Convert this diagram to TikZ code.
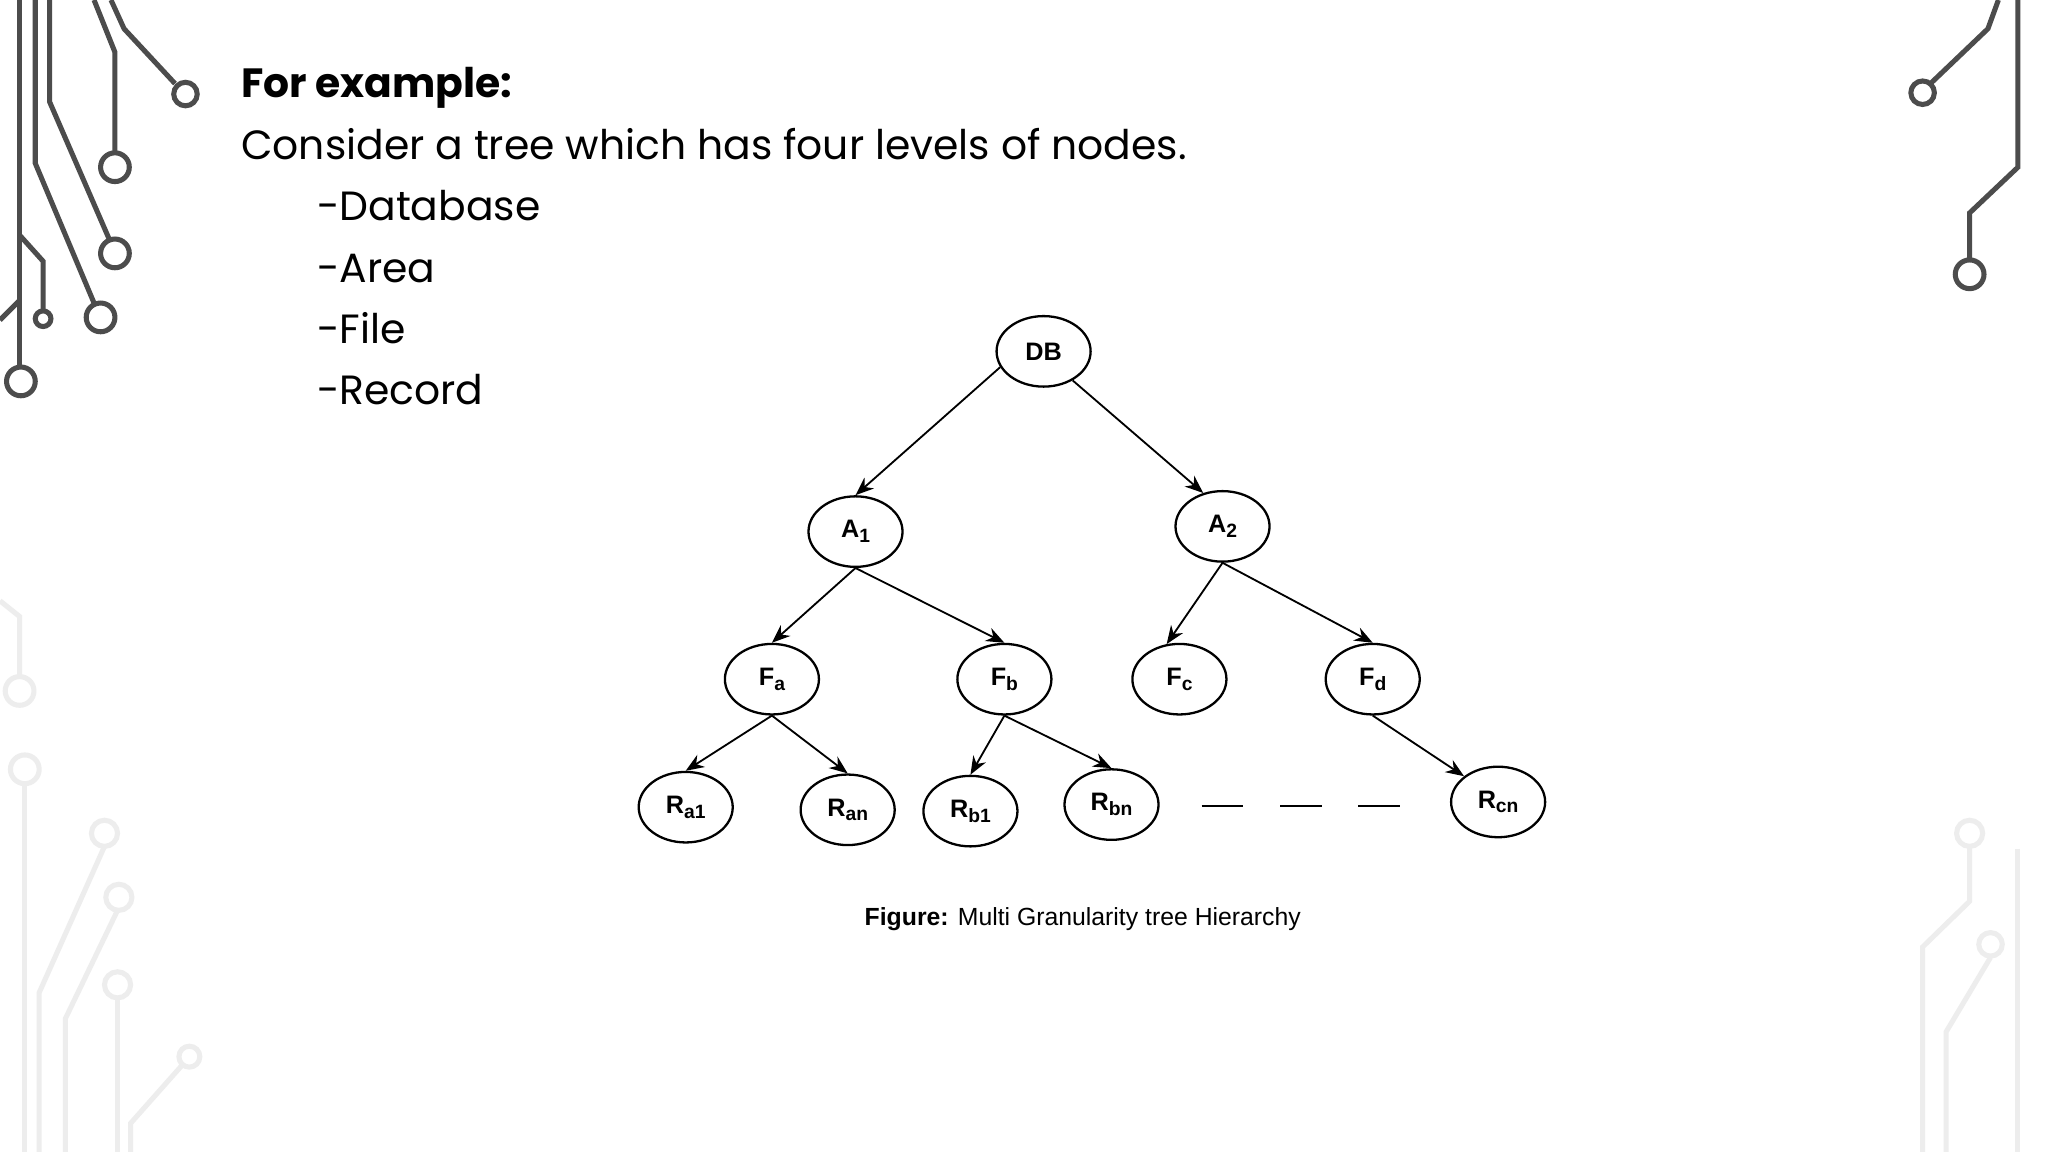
\documentclass[tikz,border=0pt]{standalone}
\usepackage{fontspec}
\setmainfont{Poppins}
\newfontfamily\arialf{Liberation Sans}
\usetikzlibrary{shapes.geometric,arrows.meta}
\newcommand{\sbx}[1]{\raisebox{-0.35ex}{\fontsize{4.2}{5}\selectfont #1}}
\begin{document}
\begin{tikzpicture}[x=0.1mm,y=-0.1mm,
  circ/.style={draw=black!70,line width=1.1pt},
  faint/.style={draw=black!7,line width=1.1pt},
  tnode/.style={ellipse,draw,line width=0.5pt,minimum width=7.2mm,minimum height=5.4mm,inner sep=0pt,font=\arialf\bfseries\fontsize{5.5}{6}\selectfont},
  arr/.style={-{Stealth[length=1.4mm,width=1.1mm]},line width=0.4pt},
  body/.style={anchor=base west,inner sep=0pt,font=\fontsize{8.9}{11}\selectfont}]
\useasboundingbox (0,0) rectangle (1568,882);
\fill[white] (0,0) rectangle (1568,882);
% decorations
\draw[circ] (15,0) -- (15,281); \draw[circ] (16,292) circle (11);
\draw[circ] (27,0) -- (27,125) -- (72,232); \draw[circ] (77,243) circle (11);
\draw[circ] (38,0) -- (38,78) -- (84,184); \draw[circ] (88,194) circle (11);
\draw[circ] (72,0) -- (88,40) -- (88,117); \draw[circ] (88,128) circle (11);
\draw[circ] (85,0) -- (95,22) -- (134,64); \draw[circ] (142,72) circle (9);
\draw[circ] (15,180) -- (33,200) -- (33,238); \draw[circ] (33,244) circle (6);
\draw[circ] (0,245) -- (15,230);
\draw[circ] (1530,0) -- (1522,22) -- (1478,64); \draw[circ] (1472,71) circle (9);
\draw[circ] (1545,0) -- (1545,128) -- (1508,163) -- (1508,199); \draw[circ] (1508,210) circle (11);
\draw[faint] (0,460) -- (15,472) -- (15,518); \draw[faint] (15,529) circle (11);
\draw[faint] (19,600) -- (19,882); \draw[faint] (19,589) circle (11);
\draw[faint] (80,648) -- (30,760) -- (30,882); \draw[faint] (80,638) circle (10);
\draw[faint] (90,697) -- (50,780) -- (50,882); \draw[faint] (91,687) circle (10);
\draw[faint] (90,764) -- (90,882); \draw[faint] (90,754) circle (10);
\draw[faint] (139,816) -- (100,860) -- (100,882); \draw[faint] (145,809) circle (8);
\draw[faint] (1508,648) -- (1508,690) -- (1472,725) -- (1472,882); \draw[faint] (1508,638) circle (10);
\draw[faint] (1524,733) -- (1490,790) -- (1490,882); \draw[faint] (1524,723) circle (9);
\draw[faint] (1545,650) -- (1545,882);
% text
\node[body,font=\bfseries\fontsize{8.9}{11}\selectfont] (t0) at (184,75) {For example:};
\node[body] (t1) at (184,122) {Consider a tree which has four levels of nodes.};
\node[body] (t2) at (242,169) {-Database};
\node[body] (t3) at (242,216) {-Area};
\node[body] (t4) at (242,263) {-File};
\node[body] (t5) at (242,310) {-Record};
% tree
\node[tnode] (db) at (799,269) {DB};
\node[tnode] (a1) at (655,407) {A\sbx{1}};
\node[tnode] (a2) at (936,403) {A\sbx{2}};
\node[tnode] (fa) at (591,520) {F\sbx{a}};
\node[tnode] (fb) at (769,520) {F\sbx{b}};
\node[tnode] (fc) at (903,520) {F\sbx{c}};
\node[tnode] (fd) at (1051,520) {F\sbx{d}};
\node[tnode] (ra1) at (525,618) {R\sbx{a1}};
\node[tnode] (ran) at (649,620) {R\sbx{an}};
\node[tnode] (rb1) at (743,621) {R\sbx{b1}};
\node[tnode] (rbn) at (851,616) {R\sbx{bn}};
\node[tnode] (rcn) at (1147,614) {R\sbx{cn}};
\draw[arr] (db.200) -- (a1.north); \draw[arr] (db.-45) -- (a2.120);
\draw[arr] (a1.south) -- (fa.north); \draw[arr] (a1.south) -- (fb.north);
\draw[arr] (a2.south) -- (fc.110); \draw[arr] (a2.south) -- (fd.north);
\draw[arr] (fa.south) -- (ra1.north); \draw[arr] (fa.south) -- (ran.north);
\draw[arr] (fb.south) -- (rb1.north); \draw[arr] (fb.south) -- (rbn.north);
\draw[arr] (fd.south) -- (rcn.north west);
\coordinate (d1) at (920,617); \coordinate (d2) at (952,617);
\coordinate (d3) at (980,617); \coordinate (d4) at (1012,617);
\coordinate (d5) at (1040,617); \coordinate (d6) at (1072,617);
\draw[line width=0.5pt] (d1) -- (d2) (d3) -- (d4) (d5) -- (d6);
\node[font=\arialf\fontsize{5.4}{6}\selectfont] (cap) at (829,704) {{\bfseries Figure:} Multi Granularity tree Hierarchy};
\end{tikzpicture}
\end{document}
